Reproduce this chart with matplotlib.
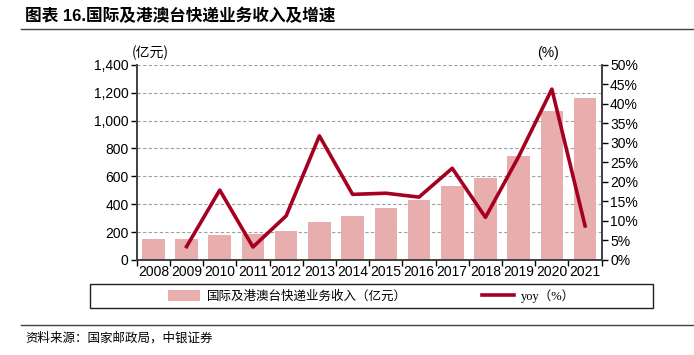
import matplotlib.pyplot as plt
import numpy as np

plt.rcParams['font.family'] = ['Liberation Sans', 'Noto Sans CJK SC']

years = ["2008", "2009", "2010", "2011", "2012", "2013", "2014",
         "2015", "2016", "2017", "2018", "2019", "2020", "2021"]
revenue = [148, 153, 180, 187, 208, 273, 316, 371, 431, 531, 586, 746, 1072, 1165]
yoy = [None, 3.4, 17.9, 3.3, 11.3, 31.8, 16.8, 17.1, 16.1, 23.5, 10.9, 26.5, 43.8, 8.7]

bar_color = "#E8AEAE"
line_color = "#A50021"

fig = plt.figure(figsize=(6.94, 3.55), dpi=100)
ax = fig.add_axes([0.197, 0.268, 0.67, 0.549])
ax2 = ax.twinx()

x = np.arange(len(years))
bars = ax.bar(x, revenue, width=0.68, color=bar_color, zorder=2,
              label="国际及港澳台快递业务收入（亿元）")
yoy_x = [i for i, v in zip(x, yoy) if v is not None]
yoy_v = [v / 100 for v in yoy if v is not None]
line, = ax2.plot(yoy_x, yoy_v, color=line_color, lw=2.6, zorder=3,
                 label="yoy（%）")

ax.set_xlim(-0.5, len(years) - 0.5)
ax.set_ylim(0, 1400)
ax.set_yticks(np.arange(0, 1401, 200))
ax.set_yticklabels([f"{v:,}" for v in range(0, 1401, 200)])
ax2.set_ylim(0, 0.5)
ax2.set_yticks(np.arange(0, 0.501, 0.05))
ax2.set_yticklabels([f"{int(round(v * 100))}%" for v in np.arange(0, 0.501, 0.05)])

ax.set_xticks(np.arange(-0.5, len(years), 1))
ax.set_xticklabels([])
ax.set_xticks(x, minor=True)
ax.set_xticklabels(years, minor=True)
ax.tick_params(axis="x", which="minor", length=0, pad=4, labelsize=10)
ax.tick_params(axis="x", which="major", length=4, width=1, direction="out")
ax.tick_params(axis="y", length=4, width=1, labelsize=10, pad=2)
ax2.tick_params(axis="y", length=4, width=1, labelsize=10, pad=2)

ax.grid(axis="y", ls=(0, (3, 2)), color="#A0A0A0", lw=0.8, zorder=0)
ax.set_axisbelow(True)
for a in (ax, ax2):
    a.spines["top"].set_visible(False)
    for s in ("left", "right", "bottom"):
        a.spines[s].set_color("#404040")
        a.spines[s].set_linewidth(1.2)
ax.set_zorder(ax2.get_zorder() - 1)
ax.patch.set_visible(False)

fig.text(0.216, 0.84, "(亿元)", fontsize=10, ha="center",
         family=["Noto Sans CJK SC"])
fig.text(0.789, 0.84, "(%)", fontsize=10, ha="center")

# title and rules
fig.text(0.036, 0.955, "图表 16.国际及港澳台快递业务收入及增速", fontsize=12,
         fontweight="bold", va="center", family=["Liberation Sans", "Noto Sans CJK SC"])
fig.add_artist(plt.Line2D([0.03, 1.0], [0.918, 0.918], color="#404040", lw=1.0))
fig.add_artist(plt.Line2D([0.03, 1.0], [0.085, 0.085], color="#404040", lw=1.0))
fig.text(0.036, 0.048, "资料来源：国家邮政局，中银证券", fontsize=9, va="center",
         style="italic", family=["Noto Sans CJK SC"])

# legend box
fig.add_artist(plt.Rectangle((0.13, 0.132), 0.811, 0.068, transform=fig.transFigure,
                             fill=False, edgecolor="#202020", lw=1.0))
leg = fig.legend(handles=[bars, line], loc="center",
                 bbox_to_anchor=(0.535, 0.166), ncol=2, frameon=False,
                 handlelength=2.6, handleheight=0.9, handletextpad=0.5,
                 borderaxespad=0, columnspacing=6.0,
                 prop={"family": ["Liberation Serif", "Noto Sans CJK SC"], "size": 9})

fig.savefig("out.png", dpi=100)
